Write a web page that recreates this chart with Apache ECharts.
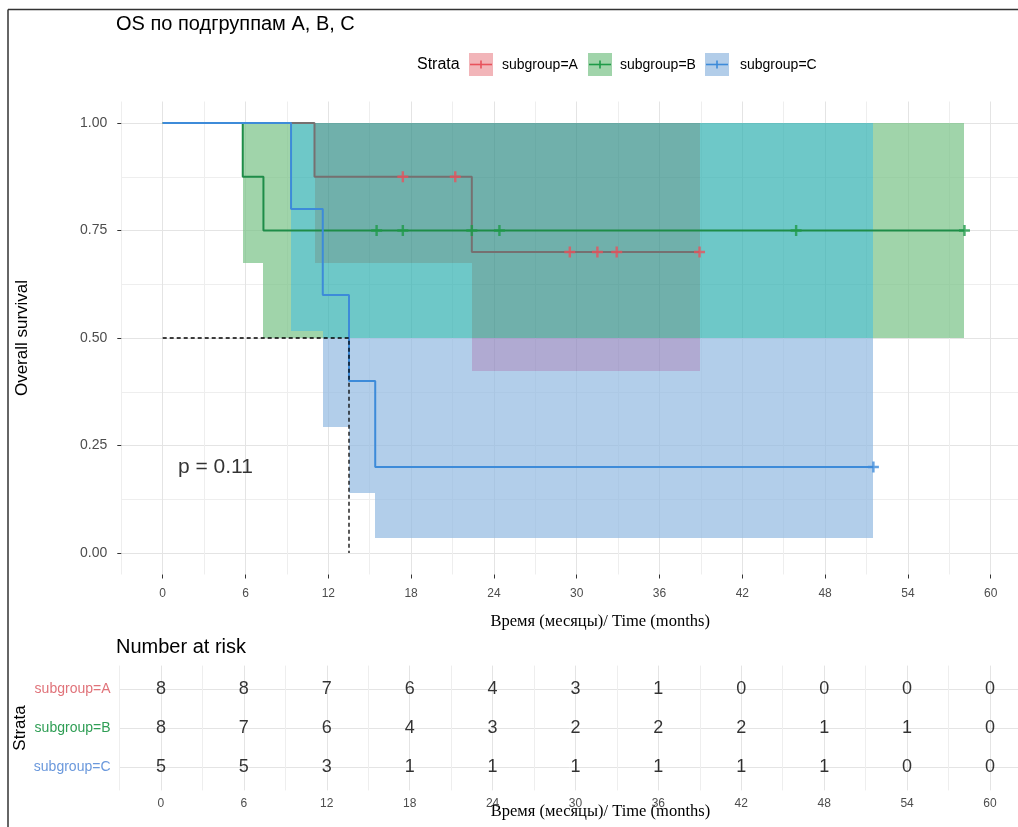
<!DOCTYPE html>
<html><head><meta charset="utf-8">
<script src="https://cdn.jsdelivr.net/npm/echarts@6/dist/echarts.min.js"></script>
<style>html,body{margin:0;padding:0;background:#fff}#c{width:1018px;height:827px}</style>
</head><body><div id="c"></div>
<script>
// ---------- data ----------
const timeTicks = [0, 6, 12, 18, 24, 30, 36, 42, 48, 54, 60];
const survTicks = [0, 0.25, 0.5, 0.75, 1];
const survMinor = [0, 0.125, 0.25, 0.375, 0.5, 0.625, 0.75, 0.875, 1];
const strata = ['subgroup=A', 'subgroup=B', 'subgroup=C'];
// Kaplan-Meier steps
const kmA_t = [0, 11.0, 22.4, 38.9];
const kmA_s = [1, 0.875, 0.70, 0.70];
const kmB_t = [0, 5.8, 7.3, 58.1];
const kmB_s = [1, 0.875, 0.75, 0.75];
const kmC_t = [0, 9.3, 11.6, 13.5, 15.4, 51.5];
const kmC_s = [1, 0.8, 0.6, 0.4, 0.2, 0.2];
// censoring marks
const censA_t = [17.4, 21.2, 29.5, 31.5, 32.9, 38.9];
const censA_s = [0.875, 0.875, 0.70, 0.70, 0.70, 0.70];
const censB_t = [15.5, 17.4, 22.4, 24.4, 45.9, 58.1];
const censB_s = [0.75, 0.75, 0.75, 0.75, 0.75, 0.75];
const censC_t = [51.5];
const censC_s = [0.2];
// confidence bands (step boundaries, lower, upper)
const ciA_t = [11.0, 22.4, 38.9];
const ciA_lo = [0.674, 0.423];
const ciA_hi = [1, 1];
const ciB_t = [5.8, 7.3, 58.1];
const ciB_lo = [0.675, 0.50];
const ciB_hi = [1, 1];
const ciC_t = [9.3, 11.6, 13.5, 15.4, 51.5];
const ciC_lo = [0.516, 0.294, 0.14, 0.035];
const ciC_hi = [1, 1, 1, 1];
// number at risk
const riskA = [8, 8, 7, 6, 4, 3, 1, 0, 0, 0, 0];
const riskB = [8, 7, 6, 4, 3, 2, 2, 2, 1, 1, 0];
const riskC = [5, 5, 3, 1, 1, 1, 1, 1, 1, 0, 0];
const medianC = 13.5;
const pText = 'p = 0.11';
const pPos = [1.1, 0.2];

// ---------- styles ----------
const lineCol = ['#767070', '#1e8c48', '#3d8bd9'];
const censCol = ['#e8525c', '#1e9a48', '#3d8bd9'];
const labCol = ['#e0737a', '#2f9e55', '#6a98dc'];
const keyFill = ['#f2b5b9', '#a0d4aa', '#b2cde9'];
// overlap fills, index = bitmask (1=A, 2=B, 4=C)
const fillCol = [null,
  'rgba(232,110,118,0.45)', 'rgba(119,194,134,0.7)', 'rgba(120,150,130,0.7)',
  'rgba(145,185,225,0.7)', 'rgba(142,134,191,0.7)', 'rgba(48,176,176,0.7)', 'rgba(51,142,136,0.7)'];
const SANS = 'Liberation Sans, Arial, sans-serif';
const SERIF = 'Liberation Serif, Times New Roman, serif';
const plusPath = 'path://M3.9,0H6.1V3.9H10V6.1H6.1V10H3.9V6.1H0V3.9H3.9Z';

// ---------- derived ----------
const zip = (a, b) => a.map((v, i) => [v, b[i]]);
const bands = [[ciA_t, ciA_lo, ciA_hi], [ciB_t, ciB_lo, ciB_hi], [ciC_t, ciC_lo, ciC_hi]];
const cells = [];
(function () {
  const xs = Array.from(new Set(bands.flatMap(b => b[0]))).sort((a, b) => a - b);
  for (let i = 0; i < xs.length - 1; i++) {
    const x0 = xs[i], x1 = xs[i + 1], xm = (x0 + x1) / 2;
    const act = [];
    bands.forEach((b, k) => {
      const [t, lo, hi] = b;
      for (let j = 0; j < t.length - 1; j++) {
        if (xm >= t[j] && xm < t[j + 1]) act.push([k, lo[j], hi[j]]);
      }
    });
    if (!act.length) continue;
    const ys = Array.from(new Set(act.flatMap(a => [a[1], a[2]]))).sort((a, b) => a - b);
    for (let j = 0; j < ys.length - 1; j++) {
      const ym = (ys[j] + ys[j + 1]) / 2;
      let m = 0;
      act.forEach(a => { if (ym >= a[1] && ym <= a[2]) m |= (1 << a[0]); });
      if (m) cells.push([x0, x1, ys[j], ys[j + 1], m]);
    }
  }
})();
const riskData = [];
[riskA, riskB, riskC].forEach((r, g) => r.forEach((n, i) => riskData.push([timeTicks[i], 3 - g, n])));

// ---------- chart ----------
const chart = echarts.init(document.getElementById('c'), null, { renderer: 'canvas' });
const gridSplit = (cols) => ({ show: true, lineStyle: { color: cols, width: 1 } });
const noLine = { show: false, onZero: false };

const option = {
  animation: false,
  backgroundColor: '#ffffff',
  grid: [
    { left: 121.3, top: 101.5, width: 910.8, height: 473, outerBoundsMode: 'none', containLabel: false },
    { left: 119.5, top: 665.6, width: 911.9, height: 124.8, outerBoundsMode: 'none', containLabel: false }
  ],
  xAxis: [
    { gridIndex: 0, type: 'value', min: -3, max: 63, interval: 3, position: 'bottom',
      axisLine: noLine, axisTick: { show: false }, axisLabel: { show: false },
      splitLine: gridSplit(['#eeeeee', '#e4e4e4']) },
    { gridIndex: 0, type: 'value', min: -3, max: 63, position: 'bottom',
      axisLine: noLine, splitLine: { show: false },
      axisTick: { show: true, customValues: timeTicks, length: 4, lineStyle: { color: '#333', width: 1 } },
      axisLabel: { show: true, customValues: timeTicks, margin: 13, color: '#4d4d4d', fontSize: 12, fontFamily: SANS },
      name: 'Время (месяцы)/ Time (months)', nameLocation: 'middle', nameGap: 39, nameMoveOverlap: false,
      nameTextStyle: { fontFamily: SERIF, fontSize: 16.5, color: '#000', padding: [0, 0, 0, 47] } },
    { gridIndex: 1, type: 'value', min: -3, max: 63, interval: 3, position: 'bottom',
      axisLine: noLine, axisTick: { show: false }, axisLabel: { show: false },
      splitLine: gridSplit(['#eeeeee', '#e4e4e4']) },
    { gridIndex: 1, type: 'value', min: -3, max: 63, position: 'bottom',
      axisLine: noLine, splitLine: { show: false }, axisTick: { show: false, customValues: timeTicks },
      axisLabel: { show: true, customValues: timeTicks, margin: 7, color: '#4d4d4d', fontSize: 12, fontFamily: SANS },
      name: 'Время (месяцы)/ Time (months)', nameLocation: 'middle', nameGap: 13, nameMoveOverlap: false,
      nameTextStyle: { fontFamily: SERIF, fontSize: 16.5, color: '#000', padding: [0, 0, 0, 50] } }
  ],
  yAxis: [
    { gridIndex: 0, type: 'value', min: -0.05, max: 1.05, position: 'left',
      axisLine: noLine, axisTick: { show: false, customValues: survMinor }, axisLabel: { show: false },
      splitLine: gridSplit(['#e4e4e4', '#eeeeee']) },
    { gridIndex: 0, type: 'value', min: -0.05, max: 1.05, position: 'left',
      axisLine: noLine, splitLine: { show: false },
      axisTick: { show: true, customValues: survTicks, length: 4, lineStyle: { color: '#333', width: 1 } },
      axisLabel: { show: true, customValues: survTicks, margin: 14, color: '#4d4d4d', fontSize: 14, fontFamily: SANS,
        formatter: v => v.toFixed(2) },
      name: 'Overall survival', nameLocation: 'middle', nameGap: 90, nameRotate: 90, nameMoveOverlap: false,
      nameTextStyle: { fontFamily: SANS, fontSize: 17, color: '#000' } },
    { gridIndex: 1, type: 'value', min: 0.4, max: 3.6, position: 'left',
      axisLine: noLine, axisTick: { show: false, customValues: [1, 2, 3] },
      axisLabel: { show: true, customValues: [1, 2, 3], margin: 9,
        formatter: v => { const i = 3 - Math.round(v); return '{g' + i + '|' + strata[i] + '}'; },
        rich: {
          g0: { color: labCol[0], fontSize: 14, fontFamily: SANS },
          g1: { color: labCol[1], fontSize: 14, fontFamily: SANS },
          g2: { color: labCol[2], fontSize: 14, fontFamily: SANS }
        } },
      splitLine: gridSplit(['#e4e4e4']),
      name: 'Strata', nameLocation: 'middle', nameGap: 91, nameRotate: 90, nameMoveOverlap: false,
      nameTextStyle: { fontFamily: SANS, fontSize: 17, color: '#000' } }
  ],
  series: [
    { type: 'custom', xAxisIndex: 0, yAxisIndex: 0, z: 2, data: cells,
      renderItem: (params, api) => {
        const p0 = api.coord([api.value(0), api.value(3)]);
        const p1 = api.coord([api.value(1), api.value(2)]);
        const x0 = Math.round(p0[0]), y0 = Math.round(p0[1]);
        const x1 = Math.round(p1[0]), y1 = Math.round(p1[1]);
        return { type: 'rect', shape: { x: x0, y: y0, width: x1 - x0, height: y1 - y0 },
          style: { fill: fillCol[api.value(4)] } };
      } },
    ...[[kmA_t, kmA_s], [kmB_t, kmB_s], [kmC_t, kmC_s]].map((d, g) => ({
      name: strata[g], type: 'line', step: 'end', xAxisIndex: 0, yAxisIndex: 0, z: 3,
      showSymbol: false, symbol: 'none', data: zip(d[0], d[1]),
      lineStyle: { color: lineCol[g], width: 2 } })),
    ...[[censA_t, censA_s], [censB_t, censB_s], [censC_t, censC_s]].map((d, g) => ({
      type: 'scatter', xAxisIndex: 0, yAxisIndex: 0, z: 5, symbol: plusPath, symbolSize: 11,
      data: zip(d[0], d[1]), itemStyle: { color: censCol[g] } })),
    { type: 'line', xAxisIndex: 0, yAxisIndex: 0, z: 4, showSymbol: false, symbol: 'none',
      data: [[0, 0.5], [medianC, 0.5], [medianC, 0]],
      lineStyle: { color: '#000', width: 1.3, type: [4, 3] } },
    { type: 'scatter', xAxisIndex: 0, yAxisIndex: 0, z: 6, symbolSize: 0, data: [pPos],
      label: { show: true, position: 'right', distance: 0, formatter: pText,
        fontSize: 21, color: '#000', fontFamily: SANS } },
    { type: 'scatter', xAxisIndex: 2, yAxisIndex: 2, symbolSize: 0, data: riskData,
      label: { show: true, position: 'inside', formatter: p => String(p.value[2]),
        fontSize: 18, color: '#000', fontFamily: SANS } }
  ],
  graphic: [
    { type: 'line', shape: { x1: 8, y1: 9.5, x2: 1018, y2: 9.5 }, style: { stroke: '#333', lineWidth: 1.5 } },
    { type: 'line', shape: { x1: 8, y1: 9.5, x2: 8, y2: 827 }, style: { stroke: '#333', lineWidth: 1.5 } },
    { type: 'text', left: 116, top: 14, style: { text: 'OS по подгруппам A, B, C', font: '20px ' + SANS, fill: '#000' } },
    { type: 'text', left: 116, top: 637, style: { text: 'Number at risk', font: '20px ' + SANS, fill: '#000' } },
    { type: 'text', left: 417, top: 57, style: { text: 'Strata', font: '16px ' + SANS, fill: '#000' } },
    ...[469, 588, 705].flatMap((x, g) => [
      { type: 'rect', shape: { x: x, y: 53, width: 24, height: 23 }, style: { fill: keyFill[g] } },
      { type: 'line', shape: { x1: x + 1, y1: 64.5, x2: x + 23, y2: 64.5 }, style: { stroke: censCol[g], lineWidth: 1.6 } },
      { type: 'line', shape: { x1: x + 12, y1: 60.5, x2: x + 12, y2: 68.5 }, style: { stroke: censCol[g], lineWidth: 1.6 } },
      { type: 'text', left: [502, 620, 740][g], top: 58, style: { text: strata[g], font: '14px ' + SANS, fill: '#000' } }
    ])
  ]
};
chart.setOption(option);
</script></body></html>
